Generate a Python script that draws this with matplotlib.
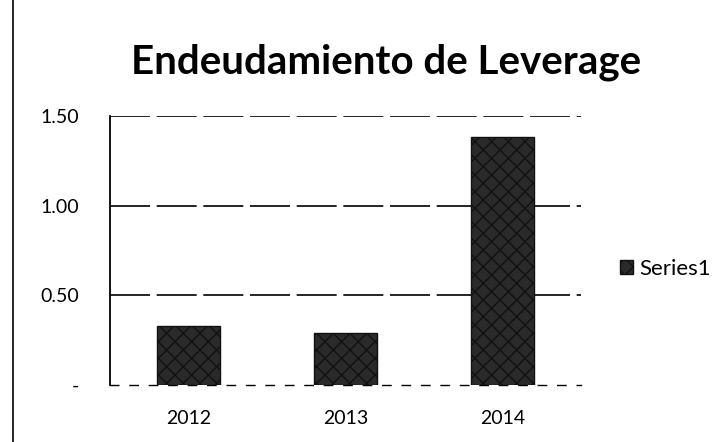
import matplotlib.pyplot as plt
from matplotlib.lines import Line2D

# Datos
anios = ['2012', '2013', '2014']
leverage = [0.33, 0.29, 1.38]
yticks = [0, 0.5, 1.0, 1.5]
ytick_labels = ['-', '0.50', '1.00', '1.50']

plt.rcParams['font.family'] = ['Lato', 'DejaVu Sans']

fig = plt.figure(figsize=(7.27, 4.42), dpi=100)
ax = fig.add_axes([0.151, 0.129, 0.648, 0.609])

x = range(len(anios))
ax.bar(x, leverage, width=0.4, color='#2a2a2a', edgecolor='#111111',
       hatch='xx', linewidth=1, zorder=3, label='Series1')

ax.set_xlim(-0.5, 2.5)
ax.set_ylim(0, 1.5)
ax.set_xticks(list(x))
ax.set_xticklabels(anios, fontsize=14)
ax.set_yticks(yticks)
ax.set_yticklabels(ytick_labels, fontsize=14)
ax.tick_params(length=0)
ax.tick_params(axis='y', pad=22)
ax.tick_params(axis='x', pad=18)

# lineas de la grilla
for v in yticks[1:]:
    ax.axhline(v, color='black', linewidth=1.2, linestyle=(0, (24, 4)), zorder=1)

for s in ['top', 'right']:
    ax.spines[s].set_visible(False)
ax.spines['left'].set_linewidth(1.3)
ax.spines['bottom'].set_linestyle((0, (6, 8)))
ax.spines['bottom'].set_linewidth(1.0)

# Titulo
fig.text(0.531, 0.86, 'Endeudamiento de Leverage', ha='center', va='center',
         fontsize=29, fontweight='bold')

# Leyenda
ax.legend(loc='center left', bbox_to_anchor=(1.04, 0.43), frameon=False,
          fontsize=16, handlelength=0.6, handleheight=0.6, handletextpad=0.3)

# borde escaneado a la izquierda
fig.add_artist(Line2D([0.018, 0.018], [0.0, 1.0], color='black', linewidth=1.2,
                      transform=fig.transFigure))

plt.savefig('out.png', dpi=100)
